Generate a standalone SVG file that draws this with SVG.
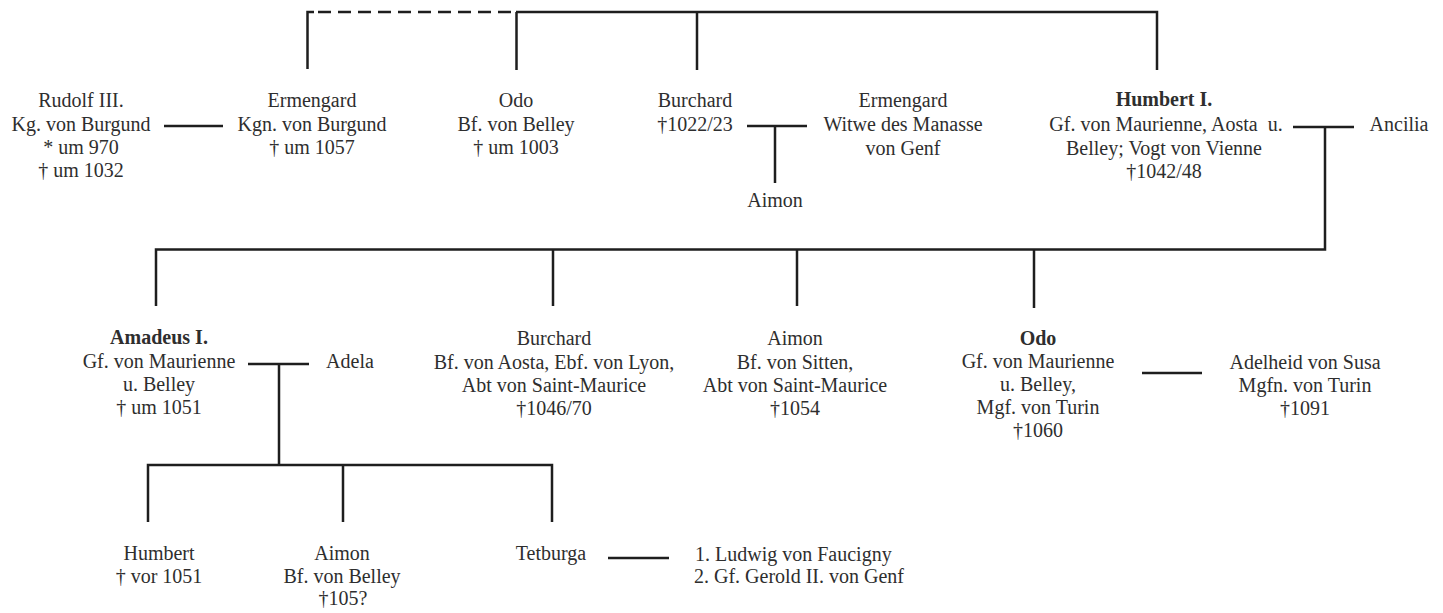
<svg xmlns="http://www.w3.org/2000/svg" width="1443" height="613" viewBox="0 0 1443 613">
<style>
text{font-family:"Liberation Serif","Times New Roman",serif;font-size:20px;fill:#2e2e2e;text-anchor:middle}
.b{font-weight:bold}
.l{text-anchor:start}
.c{stroke:#1e1e1e;stroke-width:2.5;fill:none}
.d{stroke-dasharray:13 7}
</style>
<rect width="1443" height="613" fill="#fff"/>
<g id="connectors">
<path class="c" d="M307.5 69V12H314"/>
<path class="c d" d="M318 12H516"/>
<path class="c" d="M516 12H1157V70M516.5 12V70M697 12V70"/>
<path class="c" d="M164 126H223"/>
<path class="c" d="M747 126H807M775 126V183"/>
<path class="c" d="M1293 127H1354M1325 127V249.5H156V306M553 249.5V306M797 249.5V306M1034 249.5V308"/>
<path class="c" d="M248 364H309M279 364V465"/>
<path class="c" d="M148 522V465H552V522M343 465V522"/>
<path class="c" d="M1142 373H1202"/>
<path class="c" d="M608 558H669"/>
</g>
<g id="rudolf"><text x="81" y="107">Rudolf III.</text><text x="81" y="131">Kg. von Burgund</text><text x="81" y="154">* um 970</text><text x="81" y="177">† um 1032</text></g>
<g id="ermengard1"><text x="312" y="107">Ermengard</text><text x="312" y="131">Kgn. von Burgund</text><text x="312" y="154">† um 1057</text></g>
<g id="odo1"><text x="516" y="107">Odo</text><text x="516" y="131">Bf. von Belley</text><text x="516" y="154">† um 1003</text></g>
<g id="burchard1"><text x="695" y="107">Burchard</text><text x="695" y="131">†1022/23</text></g>
<g id="ermengard2"><text x="903" y="107">Ermengard</text><text x="903" y="131">Witwe des Manasse</text><text x="903" y="155">von Genf</text></g>
<g id="aimon1"><text x="775" y="207">Aimon</text></g>
<g id="humbert1"><text class="b" x="1164" y="106">Humbert I.</text><text x="1166" y="131" xml:space="preserve">Gf. von Maurienne, Aosta  u.</text><text x="1164" y="155">Belley; Vogt von Vienne</text><text x="1164" y="178">†1042/48</text></g>
<g id="ancilia"><text x="1399" y="131">Ancilia</text></g>
<g id="amadeus"><text class="b" x="159" y="344">Amadeus I.</text><text x="159" y="368">Gf. von Maurienne</text><text x="159" y="391">u. Belley</text><text x="159" y="414">† um 1051</text></g>
<g id="adela"><text x="350" y="368">Adela</text></g>
<g id="burchard2"><text x="554" y="345">Burchard</text><text x="554" y="369">Bf. von Aosta, Ebf. von Lyon,</text><text x="554" y="392">Abt von Saint-Maurice</text><text x="554" y="415">†1046/70</text></g>
<g id="aimon2"><text x="795" y="345">Aimon</text><text x="795" y="369">Bf. von Sitten,</text><text x="795" y="392">Abt von Saint-Maurice</text><text x="795" y="415">†1054</text></g>
<g id="odo2"><text class="b" x="1038" y="345">Odo</text><text x="1038" y="368">Gf. von Maurienne</text><text x="1038" y="391">u. Belley,</text><text x="1038" y="414">Mgf. von Turin</text><text x="1038" y="437">†1060</text></g>
<g id="adelheid"><text x="1305" y="369">Adelheid von Susa</text><text x="1305" y="392">Mgfn. von Turin</text><text x="1305" y="415">†1091</text></g>
<g id="humbert2"><text x="159" y="560">Humbert</text><text x="159" y="583">† vor 1051</text></g>
<g id="aimon3"><text x="342" y="560">Aimon</text><text x="342" y="583">Bf. von Belley</text><text x="343" y="605">†105?</text></g>
<g id="tetburga"><text x="551" y="560">Tetburga</text></g>
<g id="spouses"><text class="l" x="695" y="561">1. Ludwig von Faucigny</text><text class="l" x="694" y="583">2. Gf. Gerold II. von Genf</text></g>
</svg>
